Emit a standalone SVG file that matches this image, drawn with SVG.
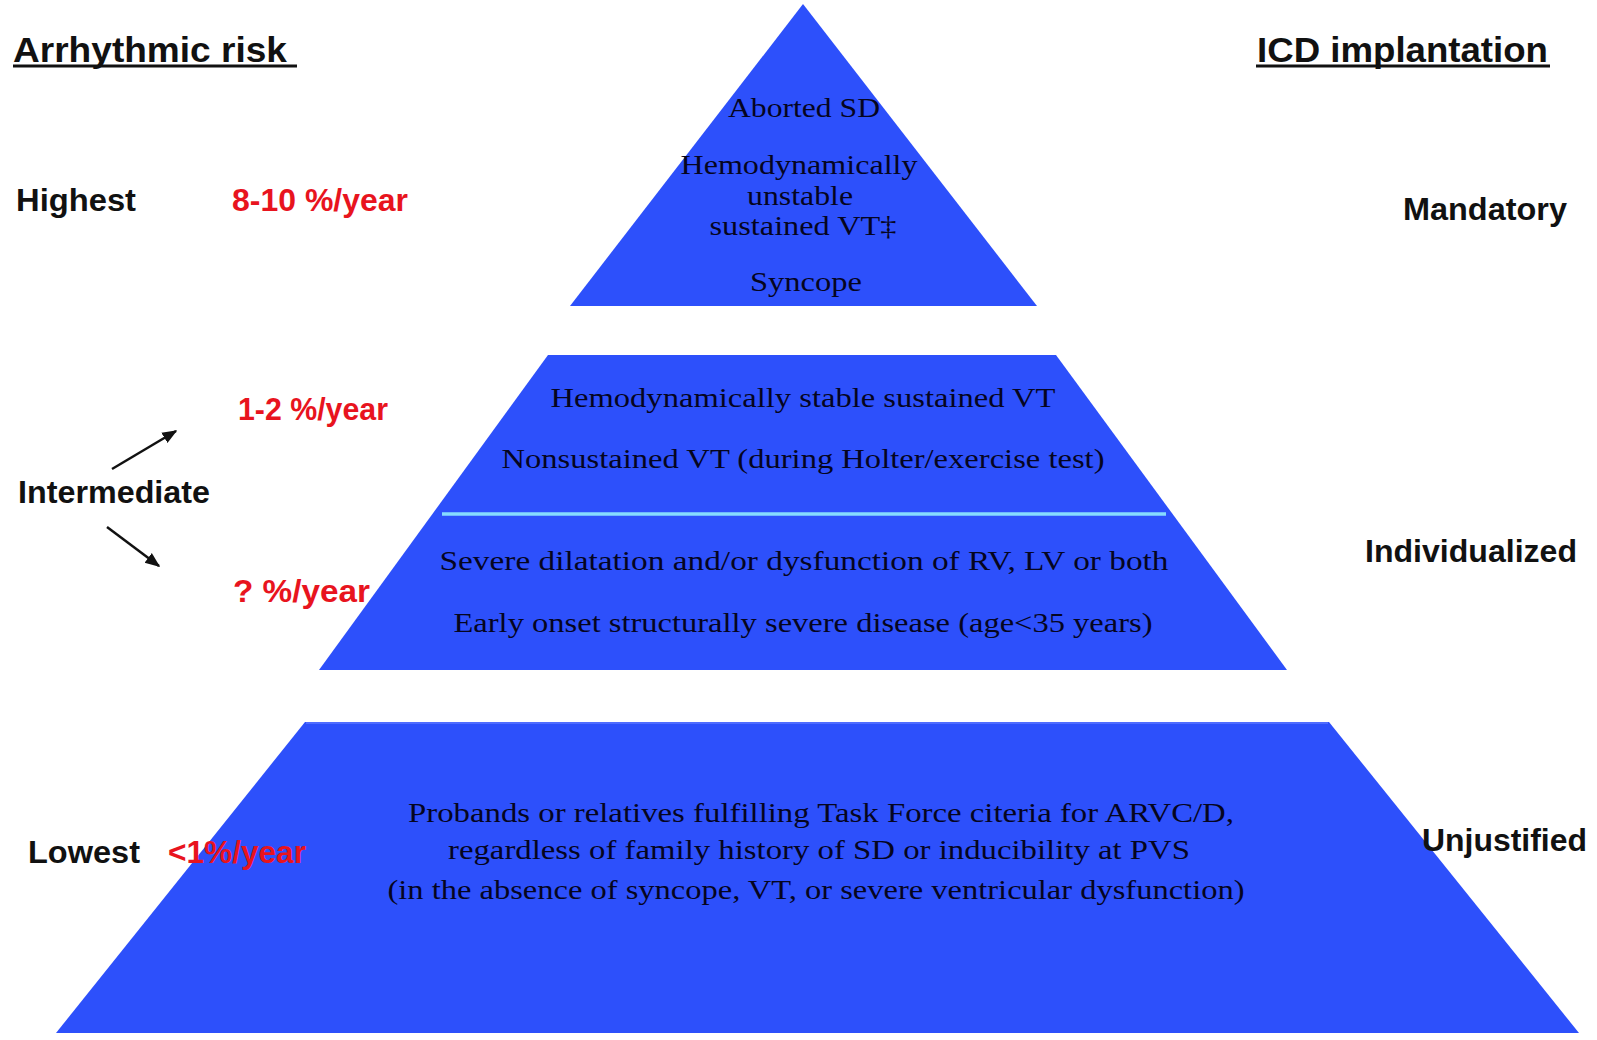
<svg xmlns="http://www.w3.org/2000/svg" width="1597" height="1040" viewBox="0 0 1597 1040">
  <style>
    .tier { fill: #2d50fb; }
    .inner { font-family: "Liberation Serif", "Times New Roman", serif; font-size: 28px; fill: #05051f; text-anchor: middle; }
    .top { font-size: 28px; }
    .lbl { font-family: "Liberation Sans", Arial, sans-serif; font-weight: bold; font-size: 32px; fill: #111111; }
    .head { font-size: 35px; }
    .rate { fill: #e8141e; }
    .uline { stroke: #111111; stroke-width: 3; }
    .arrow { stroke: #111111; stroke-width: 2.5; fill: none; marker-end: url(#ah); }
  </style>
  <defs>
    <marker id="ah" viewBox="0 0 10 10" refX="9" refY="5" markerWidth="6" markerHeight="6" orient="auto" markerUnits="strokeWidth">
      <path d="M0,1 L10,5 L0,9 Z" fill="#111111"/>
    </marker>
  </defs>
  <rect width="1597" height="1040" fill="#ffffff"/>

  <!-- column headings -->
  <g id="heading-risk">
    <text class="lbl head" x="13" y="62" textLength="274" lengthAdjust="spacingAndGlyphs">Arrhythmic risk</text>
    <line class="uline" x1="13" y1="66" x2="297" y2="66"/>
  </g>
  <g id="heading-icd">
    <text class="lbl head" x="1257" y="62" textLength="291" lengthAdjust="spacingAndGlyphs">ICD implantation</text>
    <line class="uline" x1="1256" y1="66" x2="1550" y2="66"/>
  </g>

  <!-- top tier -->
  <g id="tier-highest">
    <polygon class="tier" points="803,4 1037,306 570,306"/>
    <text class="inner top" x="804" y="117" textLength="152" lengthAdjust="spacingAndGlyphs">Aborted SD</text>
    <text class="inner top" x="799" y="174" textLength="237" lengthAdjust="spacingAndGlyphs">Hemodynamically</text>
    <text class="inner top" x="800" y="205" textLength="106" lengthAdjust="spacingAndGlyphs">unstable</text>
    <text class="inner top" x="803" y="235" textLength="187" lengthAdjust="spacingAndGlyphs">sustained VT‡</text>
    <text class="inner top" x="806" y="291" textLength="112" lengthAdjust="spacingAndGlyphs">Syncope</text>
  </g>

  <!-- middle tier -->
  <g id="tier-intermediate">
    <polygon class="tier" points="548,355 1056,355 1287,670 319,670"/>
    <line x1="442" y1="514" x2="1166" y2="514" stroke="#86dcff" stroke-width="3.5"/>
    <text class="inner" x="803" y="407" textLength="505" lengthAdjust="spacingAndGlyphs">Hemodynamically stable sustained VT</text>
    <text class="inner" x="803" y="468" textLength="603" lengthAdjust="spacingAndGlyphs">Nonsustained VT (during Holter/exercise test)</text>
    <text class="inner" x="804" y="570" textLength="729" lengthAdjust="spacingAndGlyphs">Severe dilatation and/or dysfunction of  RV, LV or both</text>
    <text class="inner" x="803" y="632" textLength="699" lengthAdjust="spacingAndGlyphs">Early onset structurally severe disease (age&lt;35 years)</text>
  </g>

  <!-- bottom tier -->
  <g id="tier-lowest">
    <polygon class="tier" points="305,722 1329,722 1579,1033 56,1033"/>
    <line x1="306" y1="723" x2="1328" y2="723" stroke="#4f6cff" stroke-width="2"/>
    <text class="inner" x="821" y="822" textLength="826" lengthAdjust="spacingAndGlyphs">Probands or relatives fulfilling Task Force citeria for ARVC/D,</text>
    <text class="inner" x="819" y="859" textLength="742" lengthAdjust="spacingAndGlyphs">regardless of family history of SD or inducibility at PVS</text>
    <text class="inner" x="816" y="899" textLength="857" lengthAdjust="spacingAndGlyphs">(in the absence of syncope, VT, or severe ventricular dysfunction)</text>
  </g>

  <!-- risk labels -->
  <g id="label-highest">
    <text class="lbl" x="16" y="211" textLength="120" lengthAdjust="spacingAndGlyphs">Highest</text>
    <text class="lbl rate" x="232" y="211" textLength="176" lengthAdjust="spacingAndGlyphs">8-10 %/year</text>
  </g>
  <g id="label-intermediate">
    <text class="lbl" x="18" y="503" textLength="192" lengthAdjust="spacingAndGlyphs">Intermediate</text>
    <text class="lbl rate" x="238" y="420" textLength="150" lengthAdjust="spacingAndGlyphs">1-2 %/year</text>
    <text class="lbl rate" x="233" y="602" textLength="137" lengthAdjust="spacingAndGlyphs">? %/year</text>
  </g>
  <g id="label-lowest">
    <text class="lbl" x="28" y="863" textLength="112" lengthAdjust="spacingAndGlyphs">Lowest</text>
    <text class="lbl rate" x="168" y="863" textLength="138" lengthAdjust="spacingAndGlyphs">&lt;1%/year</text>
  </g>

  <!-- ICD labels -->
  <g id="icd-mandatory">
    <text class="lbl" x="1403" y="220" textLength="164" lengthAdjust="spacingAndGlyphs">Mandatory</text>
  </g>
  <g id="icd-individualized">
    <text class="lbl" x="1365" y="562" textLength="212" lengthAdjust="spacingAndGlyphs">Individualized</text>
  </g>
  <g id="icd-unjustified">
    <text class="lbl" x="1422" y="851" textLength="165" lengthAdjust="spacingAndGlyphs">Unjustified</text>
  </g>

  <!-- connectors -->
  <g id="connectors">
    <line class="arrow" x1="112" y1="469" x2="176" y2="431"/>
    <line class="arrow" x1="107" y1="527" x2="159" y2="566"/>
  </g>
</svg>
